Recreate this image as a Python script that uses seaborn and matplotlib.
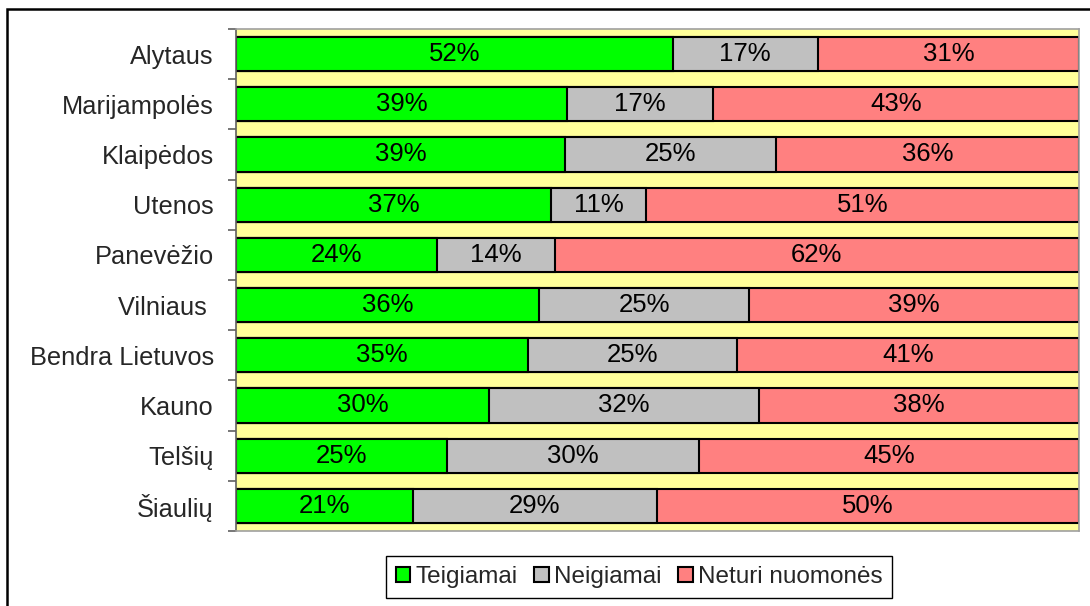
"""
Stacked 100% bar chart of opinions by county.
"""
import numpy as np
import pandas as pd
import matplotlib.pyplot as plt
import matplotlib.patches as mpatches
import seaborn as sns

regions = ["Alytaus", "Marijampolės", "Klaipėdos", "Utenos", "Panevėžio",
           "Vilniaus ", "Bendra Lietuvos", "Kauno", "Telšių", "Šiaulių"]
teigiamai = [51.8, 39.3, 39.0, 37.4, 23.8, 35.9, 34.6, 30.0, 25.0, 21.0]
neigiamai = [17.2, 17.3, 25.0, 11.2, 14.0, 25.0, 24.8, 32.0, 29.9, 28.9]
neturi = [31.0, 43.4, 36.0, 51.4, 62.2, 39.1, 40.6, 38.0, 45.1, 50.1]
series_names = ["Teigiamai", "Neigiamai", "Neturi nuomonės"]
colors = ["#00FF00", "#C0C0C0", "#FF8080"]

df = pd.DataFrame({"region": regions, "Teigiamai": teigiamai,
                   "Neigiamai": neigiamai, "Neturi nuomonės": neturi})
df["cum1"] = df["Teigiamai"]
df["cum2"] = df["Teigiamai"] + df["Neigiamai"]
df["cum3"] = df["cum2"] + df["Neturi nuomonės"]

sns.set_theme(style="white")
plt.rcParams["font.family"] = ["Liberation Sans", "DejaVu Sans"]

fig = plt.figure(figsize=(10.9, 6.06), dpi=100)
ax = fig.add_axes([236 / 1090, 1 - 531 / 606, (1079 - 236) / 1090, (531 - 29) / 606])
ax.set_facecolor("#FFFF99")

# draw totals first, then overlay shorter cumulative bars
for col, color in zip(["cum3", "cum2", "cum1"], colors[::-1]):
    sns.barplot(data=df, y="region", x=col, orient="h", color=color,
                width=0.68, edgecolor="black", linewidth=1.5, ax=ax,
                saturation=1)

# segment labels
starts = np.zeros(len(regions))
for name in series_names:
    vals = df[name].values
    for i, v in enumerate(vals):
        ax.text(starts[i] + v / 2, i, f"{v:.0f}%", ha="center", va="center",
                fontsize=18.5, color="black")
    starts += vals

ax.set_xlim(0, 100)
ax.set_ylim(len(regions) - 0.5, -0.5)
ax.set_xlabel("")
ax.set_ylabel("")
ax.set_xticks([])
ax.set_yticks(range(len(regions)))
ax.set_yticklabels(regions, fontsize=18.3)
ax.tick_params(axis="y", which="major", length=0, pad=16)
ax.set_yticks(np.arange(-0.5, len(regions), 1), minor=True)
ax.tick_params(axis="y", which="minor", length=6, width=1.2,
               color="#606060", direction="out", left=True)
for side in ["top", "right", "bottom"]:
    ax.spines[side].set_color("#A0A0A0")
    ax.spines[side].set_linewidth(1.2)
ax.spines["left"].set_color("#606060")
ax.spines["left"].set_linewidth(1.2)

handles = [mpatches.Patch(facecolor=c, edgecolor="black", linewidth=1.5)
           for c in colors]
fig.legend(handles, series_names, loc="center",
           bbox_to_anchor=(639 / 1090, 1 - 577 / 606), ncol=3,
           fontsize=17.5, frameon=True, fancybox=False, edgecolor="black",
           framealpha=1, handlelength=0.6, handleheight=0.6,
           handletextpad=0.2, columnspacing=0.7, borderpad=0.4)

# outer chart border (runs past the right/bottom edges of the image)
border = mpatches.Rectangle((7 / 1090, -0.1), 1.2, 1 - 9 / 606 + 0.1,
                            transform=fig.transFigure, fill=False,
                            edgecolor="black", linewidth=1.8, clip_on=False)
fig.patches.append(border)

fig.savefig("out.png", dpi=100)
